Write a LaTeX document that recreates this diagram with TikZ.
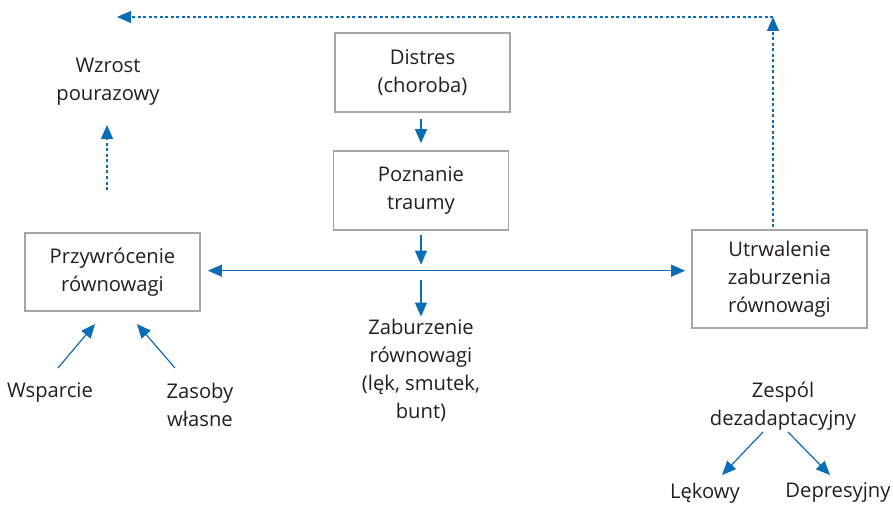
\documentclass[tikz,border=0pt]{standalone}
\usepackage{fontspec}
\setmainfont{Open Sans}
\usetikzlibrary{arrows.meta}
\definecolor{arrowblue}{HTML}{0A6DB5}
\definecolor{boxgray}{HTML}{A6A6A6}
\definecolor{textgray}{HTML}{231F20}
\begin{document}
\begin{tikzpicture}[x=1pt,y=-1pt,
  every node/.style={font=\fontsize{20.2}{28}\selectfont, text=textgray, align=center, inner sep=0pt},
  box/.style={draw=boxgray, line width=1.8pt, minimum width=175pt},
  conn/.style={draw=arrowblue, line width=1.2pt, -{Triangle[length=14pt,width=12pt]}},
  dconn/.style={conn, dash pattern=on 3pt off 2.5pt}]
\useasboundingbox (0,0) rectangle (893,505);
% boxes
\node[box, minimum height=79pt] (distres) at (422.5,72.5) {Distres\\(choroba)};
\node[box, minimum height=79pt] (pozn) at (421,190.5) {Poznanie\\traumy};
\node[box, minimum height=78pt] (przyw) at (112.5,272) {Przywrócenie\\równowagi};
\node[box, minimum height=98pt] (utrw) at (779.5,279) {Utrwalenie\\zaburzenia\\równowagi};
% texts
\node (zab) at (421,370) {Zaburzenie\\równowagi\\(lęk, smutek,\\bunt)};
\node (wzrost) at (108,82) {Wzrost\\pourazowy};
\node (wsp) at (50,393) {Wsparcie};
\node (zas) at (200,405) {Zasoby\\własne};
\node (zesp) at (783,406) {Zespól\\dezadaptacyjny};
\node (lek) at (705,493) {Lękowy};
\node (dep) at (838,493) {Depresyjny};
% coordinates
\coordinate (hmid) at (421,270.7);
\coordinate (ucorner) at (773,17);
\coordinate (topleft) at (117,17);
\coordinate (wzb) at (107,190);
\coordinate (wzt) at (107,125);
\coordinate (wspA) at (58,368);
\coordinate (wspB) at (95,324);
\coordinate (zasA) at (175,368);
\coordinate (zasB) at (137,324);
\coordinate (zeA) at (763,432);
\coordinate (zeB) at (722,475);
\coordinate (zeC) at (788,432);
\coordinate (zeD) at (830,475);
% connectors
\draw[conn, shorten <=6pt, shorten >=7pt] (distres.south -| pozn.north) -- (pozn.north);
\draw[conn, shorten <=4pt, shorten >=6pt] (pozn.south) -- (hmid);
\draw[draw=arrowblue, line width=1.2pt, {Triangle[length=14pt,width=12pt]}-{Triangle[length=14pt,width=12pt]}, shorten <=7pt, shorten >=6pt] (przyw.east |- hmid) -- (utrw.west |- hmid);
\draw[conn, shorten <=9pt, shorten >=2pt] (hmid) -- (zab.north);
\draw[conn] (wspA) -- (wspB);
\draw[conn] (zasA) -- (zasB);
\draw[conn] (zeA) -- (zeB);
\draw[conn] (zeC) -- (zeD);
\draw[dconn, shorten <=2pt] (utrw.north -| ucorner) -- (ucorner);
\draw[dconn] (ucorner) -- (topleft);
\draw[dconn] (wzb) -- (wzt);
\end{tikzpicture}
\end{document}
